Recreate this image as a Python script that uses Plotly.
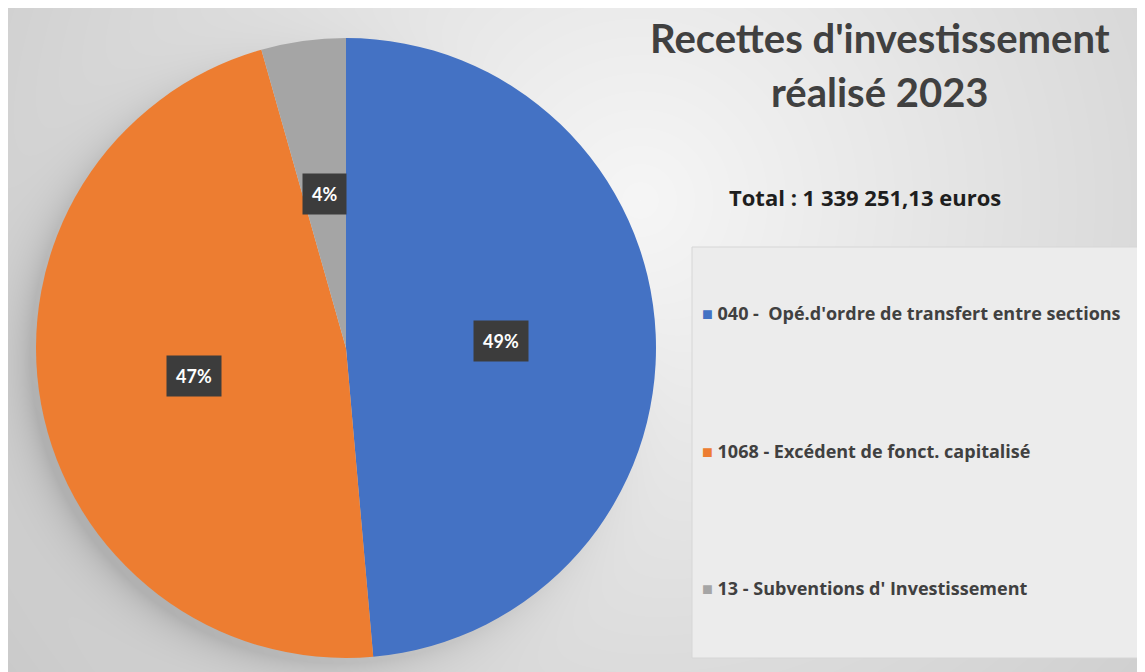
import base64
import math
import struct
import zlib

import numpy as np
import plotly.graph_objects as go

# données
categories = [
    "040 -  Opé.d'ordre de transfert entre sections",
    "1068 - Excédent de fonct. capitalisé",
    "13 - Subventions d' Investissement",
]
valeurs = [48.6, 47.0, 4.4]  # parts en %
couleurs = ["#4472C4", "#ED7D31", "#A5A5A5"]
titre_lignes = ["Recettes d'investissement", "réalisé 2023"]
total_texte = "Total : 1 339 251,13 euros"

W, H = 1145, 672
OFF = 8  # marge de la page
# position du camembert (pixels de la page)
CX, CY, R = 346, 348, 310


def px_x(x):
    return (x - OFF) / W


def px_y(y):
    return 1 - (y - OFF) / H


def png_gris(arr):
    """encode un tableau uint8 (gris) en PNG"""
    h, w = arr.shape
    raw = b"".join(b"\x00" + arr[i].tobytes() for i in range(h))

    def chunk(tag, data):
        c = struct.pack(">I", len(data)) + tag + data
        return c + struct.pack(">I", zlib.crc32(tag + data) & 0xFFFFFFFF)

    return (b"\x89PNG\r\n\x1a\n"
            + chunk(b"IHDR", struct.pack(">IIBBBBB", w, h, 8, 0, 0, 0, 0))
            + chunk(b"IDAT", zlib.compress(raw, 9))
            + chunk(b"IEND", b""))


# fond dégradé + ombre du camembert (coordonnées de la page)
yy, xx = np.mgrid[0:H, 0:W].astype(float)
xx += OFF
yy += OFF
d = np.hypot(xx - 640, yy - 200)
fond = 246 - 0.055 * d
sx, sy = CX - 6, CY + 5
ds = np.hypot(xx - sx, yy - sy)
ds[ds == 0] = 1
ux = (xx - sx) / ds
uy = (yy - sy) / ds
f = np.clip(0.5 - 0.45 * ux + 0.3 * uy, 0, 1)
e = np.clip(ds - R, 0, None)
fond -= 34 * f * np.exp(-e / 20)
fond = np.clip(fond, 0, 255).astype(np.uint8)
fond_src = "data:image/png;base64," + base64.b64encode(png_gris(fond)).decode()

fig = go.Figure()

fig.add_trace(go.Pie(
    labels=categories,
    values=valeurs,
    marker=dict(colors=couleurs, line=dict(width=0)),
    sort=False,
    direction="clockwise",
    rotation=0,
    textinfo="none",
    hoverinfo="label+percent",
    showlegend=False,
    domain=dict(x=[px_x(CX - R), px_x(CX + R)], y=[px_y(CY + R), px_y(CY - R)]),
))

annotations = []

# étiquettes de pourcentage (placées au milieu de chaque part)
total = sum(valeurs)
cumul = 0
for v in valeurs:
    theta = 2 * math.pi * (cumul + v / 2) / total
    lx = CX + 0.5 * R * math.sin(theta)
    ly = CY - 0.5 * R * math.cos(theta)
    annotations.append(dict(
        x=px_x(lx), y=px_y(ly), xref="paper", yref="paper",
        xanchor="center", yanchor="middle",
        text=f"<b>{round(100 * v / total)}%</b>", showarrow=False,
        font=dict(family="Lato", size=18, color="white"),
        bgcolor="#3c3c3c", borderpad=9,
    ))
    cumul += v

# titre
for i, ligne in enumerate(titre_lignes):
    annotations.append(dict(
        x=px_x(880), y=px_y(38 + i * 54), xref="paper", yref="paper",
        xanchor="center", yanchor="middle",
        text=f"<b>{ligne}</b>", showarrow=False,
        font=dict(family="Lato", size=40, color="#404040"),
    ))

annotations.append(dict(
    x=px_x(865), y=px_y(197), xref="paper", yref="paper",
    xanchor="center", yanchor="middle",
    text=f"<b>{total_texte}</b>", showarrow=False,
    font=dict(family="Open Sans", size=22, color="#1e1e1e"),
))

# légende
for i, (cat, c) in enumerate(zip(categories, couleurs)):
    annotations.append(dict(
        x=px_x(700), y=px_y(313 + i * 137.5), xref="paper", yref="paper",
        xanchor="left", yanchor="middle",
        text=f"<span style='color:{c}'>■</span> <b>{cat}</b>", showarrow=False,
        font=dict(family="Open Sans", size=18, color="#404040"),
    ))

fig.update_layout(
    width=W, height=H,
    margin=dict(l=0, r=0, t=0, b=0),
    paper_bgcolor="white",
    plot_bgcolor="rgba(0,0,0,0)",
    xaxis=dict(visible=False),
    yaxis=dict(visible=False),
    images=[dict(
        source=fond_src, xref="paper", yref="paper", x=0, y=1,
        sizex=1, sizey=1, xanchor="left", yanchor="top",
        sizing="stretch", layer="below",
    )],
    shapes=[dict(
        type="rect", xref="paper", yref="paper",
        x0=px_x(692), x1=px_x(1139), y0=px_y(658), y1=px_y(247),
        fillcolor="#ececec", line=dict(color="#d6d6d6", width=1), layer="below",
    )],
    annotations=annotations,
)

fig.write_html("out.html")
